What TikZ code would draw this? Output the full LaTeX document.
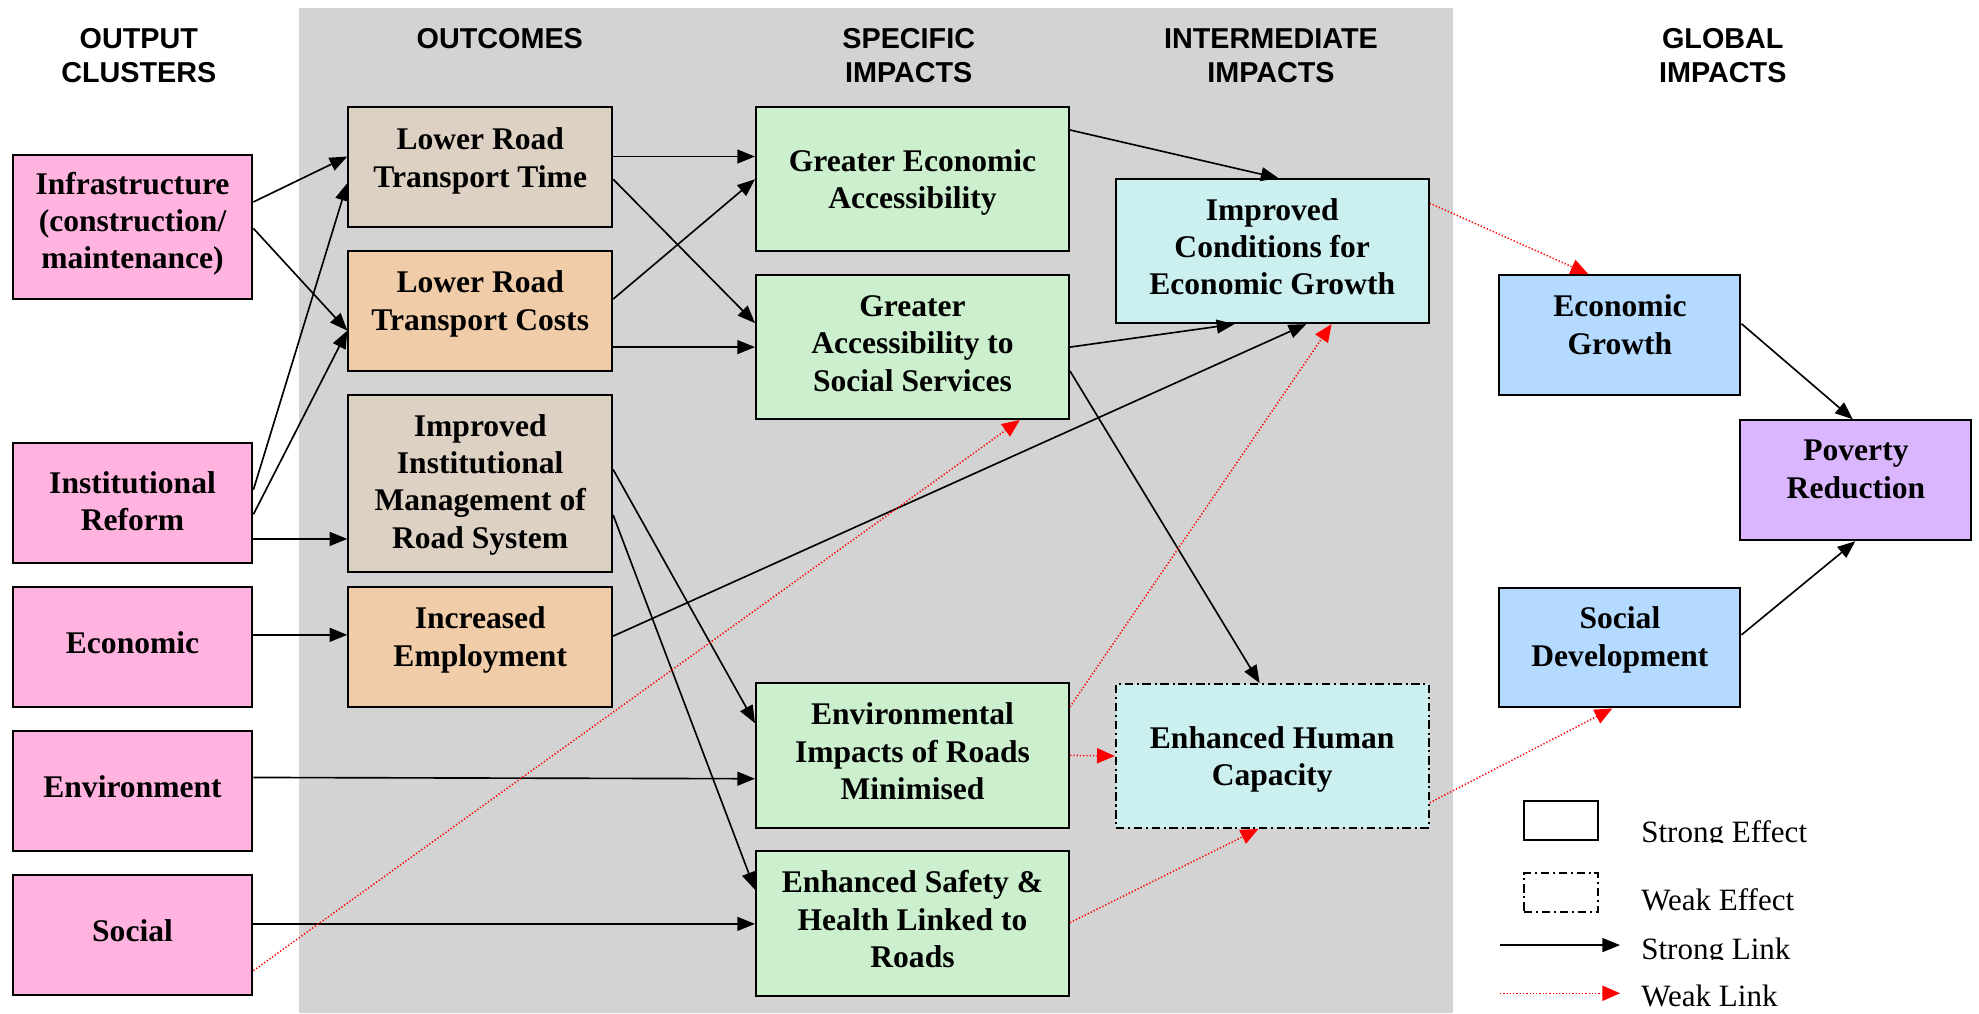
\documentclass[tikz,border=0pt]{standalone}
\usepackage{fontspec}
\setmainfont{Liberation Serif}
\setsansfont{Liberation Sans}
\usetikzlibrary{arrows.meta,calc}

\definecolor{pinkc}{RGB}{255,179,222}
\definecolor{tanc}{RGB}{221,209,196}
\definecolor{peachc}{RGB}{240,205,168}
\definecolor{greenc}{RGB}{204,240,206}
\definecolor{cyanc}{RGB}{204,240,240}
\definecolor{bluec}{RGB}{181,218,255}
\definecolor{purplec}{RGB}{218,182,255}
\definecolor{graybg}{RGB}{211,211,211}

% box (named) plus its text, placed at its own height inside the box
% #1 name, #2 cx, #3 cy, #4 width, #5 height, #6 style, #7 text y, #8 text
\newcommand\mkbox[8]{%
  \node[box, #6, minimum width=#4*0.5pt, minimum height=#5*0.5pt] (#1) at (#2,#3) {};
  \node[boxtext] (#1-t) at (#2,#7+3) {\strut#8\strut};
}

\begin{document}
\begin{tikzpicture}[x=0.5pt,y=-0.5pt,
  box/.style={draw=black, line width=0.8pt, rectangle, inner sep=0pt},
  weakborder/.style={dash pattern=on 3.3pt off 1.5pt on 0.8pt off 1.5pt},
  boxtext/.style={font=\bfseries\fontsize{12.5}{14.8}\selectfont, align=center, inner sep=0pt},
  headtext/.style={font=\sffamily\bfseries\fontsize{11.4}{13.5}\selectfont, align=center, inner sep=0pt},
  legtext/.style={font=\fontsize{12.3}{14}\selectfont, inner sep=0pt, anchor=base west},
  strong/.style={draw=black, line width=0.65pt, -{Triangle[length=7pt,width=5.5pt]}},
  weak/.style={draw=red, line width=0.6pt, dash pattern=on 0.5pt off 0.8pt,
    -{Triangle[length=7pt,width=6pt,fill=red]}},
]
\useasboundingbox (0,0) rectangle (1568,803);
\fill[white] (0,0) rectangle (1568,803);
% shaded band behind the outcome and impact columns
\fill[graybg] (237,6) rectangle (1151,803);

% column headings
\node[headtext] (h-out) at (110,46.3) {\strut OUTPUT\\CLUSTERS\strut};
\node[headtext] (h-outc) at (396,32.8) {\strut OUTCOMES\strut};
\node[headtext] (h-spec) at (720,46.3) {\strut SPECIFIC\\IMPACTS\strut};
\node[headtext] (h-int) at (1007,46.3) {\strut INTERMEDIATE\\IMPACTS\strut};
\node[headtext] (h-glob) at (1365,46.3) {\strut GLOBAL\\IMPACTS\strut};

% output clusters
\mkbox{infra}{105}{180}{190}{114}{fill=pinkc}{174.5}{Infrastructure\\(construction/\\maintenance)}
\mkbox{inst}{105}{398.5}{190}{95}{fill=pinkc}{396.5}{Institutional\\Reform}
\mkbox{econ}{105}{512.5}{190}{95}{fill=pinkc}{509}{Economic}
\mkbox{env}{105}{626.5}{190}{95}{fill=pinkc}{623}{Environment}
\mkbox{soc}{105}{740.5}{190}{95}{fill=pinkc}{737}{Social}

% outcomes
\mkbox{lrtt}{380.5}{132.5}{209}{95}{fill=tanc}{124.5}{Lower Road\\Transport Time}
\mkbox{lrtc}{380.5}{246.5}{209}{95}{fill=peachc}{238}{Lower Road\\Transport Costs}
\mkbox{iim}{380.5}{383}{209}{140}{fill=tanc}{381}{Improved\\Institutional\\Management of\\Road System}
\mkbox{ie}{380.5}{512.5}{209}{95}{fill=peachc}{504}{Increased\\Employment}

% specific impacts
\mkbox{gea}{723}{142}{248}{114}{fill=greenc}{141.5}{Greater Economic\\Accessibility}
\mkbox{gass}{723}{275}{248}{114}{fill=greenc}{271.5}{Greater\\Accessibility to\\Social Services}
\mkbox{eirm}{723}{598.5}{248}{115}{fill=greenc}{595}{Environmental\\Impacts of Roads\\Minimised}
\mkbox{esh}{723}{731.5}{248}{115}{fill=greenc}{728}{Enhanced Safety \&\\Health Linked to\\Roads}

% intermediate impacts
\mkbox{iceg}{1008}{199}{248}{114}{fill=cyanc}{195}{Improved\\Conditions for\\Economic Growth}
\mkbox{ehc}{1008}{599}{248}{114}{fill=cyanc,weakborder}{599}{Enhanced Human\\Capacity}

% global impacts
\mkbox{eg}{1283.5}{265.5}{191}{95}{fill=bluec}{257}{Economic\\Growth}
\mkbox{sd}{1283.5}{513}{191}{95}{fill=bluec}{504}{Social\\Development}
\mkbox{pr}{1470.5}{380.5}{183}{95}{fill=purplec}{371}{Poverty\\Reduction}

% strong links
\draw[strong] ($(infra.east)+(0,-20)$) -- ($(lrtt.west)+(0,-8.5)$);
\draw[strong] ($(infra.east)+(0,1)$) -- ($(lrtc.west)+(0,15.5)$);
\draw[strong] ($(inst.east)+(0,-10.5)$) -- ($(lrtt.west)+(0,12.5)$);
\draw[strong] ($(inst.east)+(0,9)$) -- ($(lrtc.west)+(0,15.5)$);
\draw[strong] ($(inst.east)+(0,28.5)$) -- ($(iim.west)+(0,44)$);
\draw[strong] ($(econ.east)+(0,-9.5)$) -- ($(ie.west)+(0,-9.5)$);
\draw[strong] ($(env.east)+(0,-10.5)$) -- ($(eirm.west)+(0,18.5)$);
\draw[strong] ($(soc.east)+(0,-8.5)$) -- ($(esh.west)+(0,0.5)$);
\draw[strong] ($(lrtt.east)+(0,-8.5)$) -- ($(gea.west)+(0,-18)$);
\draw[strong] ($(lrtt.east)+(0,9.5)$) -- ($(gass.west)+(0,-19)$);
\draw[strong] ($(lrtc.east)+(0,-9.5)$) -- (gea.west);
\draw[strong] ($(lrtc.east)+(0,28.5)$) -- (gass.west);
\draw[strong] ($(iim.east)+(0,-11)$) -- ($(eirm.west)+(0,-25.5)$);
\draw[strong] ($(iim.east)+(0,25)$) -- ($(esh.west)+(0,-26.5)$);
\draw[strong] ($(ie.east)+(0,-8.5)$) -- ($(iceg.south)+(27,0)$);
\draw[strong] ($(gea.east)+(0,-39)$) -- ($(iceg.north)+(5,0)$);
\draw[strong] (gass.east) -- ($(iceg.south)+(-30,0)$);
\draw[strong] ($(gass.east)+(0,19)$) -- ($(ehc.north)+(-10,0)$);
\draw[strong] ($(eg.east)+(0,-9)$) -- ($(pr.north)+(-2.5,0)$);
\draw[strong] ($(sd.east)+(0,-10)$) -- ($(pr.south)+(-0.5,0)$);

% weak links
\draw[weak] ($(soc.east)+(0,28.5)$) -- ($(gass.south)+(85,0)$);
\draw[weak] ($(eirm.east)+(0,-38.5)$) -- ($(iceg.south)+(47,0)$);
\draw[weak] (eirm.east) -- (ehc.west);
\draw[weak] ($(esh.east)+(0,-0.5)$) -- ($(ehc.south)+(-11,0)$);
\draw[weak] ($(iceg.east)+(0,-38)$) -- ($(eg.north)+(-25,0)$);
\draw[weak] ($(ehc.east)+(0,37)$) -- ($(sd.south)+(-6,0)$);

% legend
\node[box, minimum width=58.5*0.5pt, minimum height=31*0.5pt] (lg-se) at (1236.75,650.2) {};
\node[box, weakborder, minimum width=58.5*0.5pt, minimum height=30.6*0.5pt] (lg-we) at (1236.75,707.3) {};
\coordinate (lg-sl-a) at (1188.5,748.8);
\coordinate (lg-sl-b) at (1283.6,748.8);
\coordinate (lg-wl-a) at (1188.5,787);
\coordinate (lg-wl-b) at (1283.6,787);
\draw[strong] (lg-sl-a) -- (lg-sl-b);
\draw[weak] (lg-wl-a) -- (lg-wl-b);
\begin{scope}
  \clip (1290,630) rectangle (1520,667.8);
  \node[legtext] (lg-se-t) at (1300,667.4) {Strong Effect};
\end{scope}
\node[legtext] (lg-we-t) at (1300,721.6) {Weak Effect};
\begin{scope}
  \clip (1290,735) rectangle (1520,760.4);
  \node[legtext] (lg-sl-t) at (1300,760) {Strong Link};
\end{scope}
\begin{scope}
  \clip (1290,770) rectangle (1520,798);
  \node[legtext] (lg-wl-t) at (1300,797.6) {Weak Link};
\end{scope}
\end{tikzpicture}
\end{document}
